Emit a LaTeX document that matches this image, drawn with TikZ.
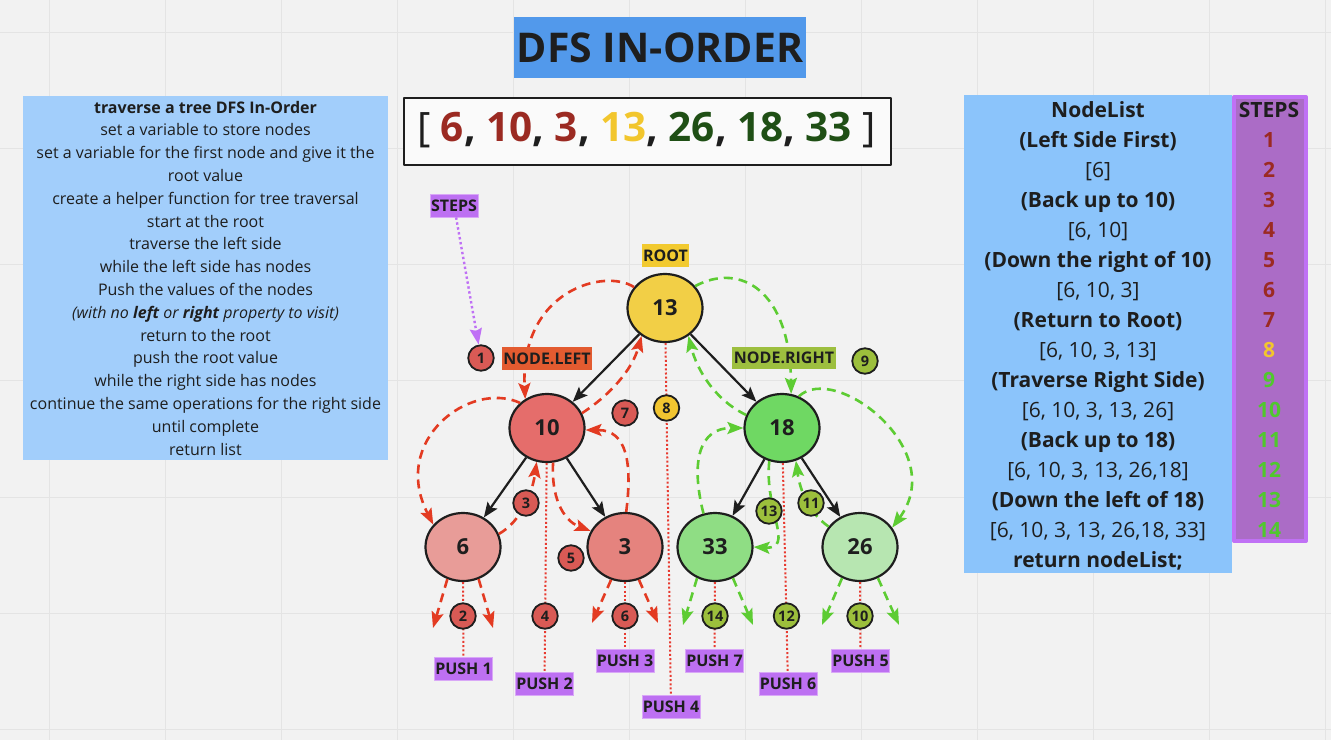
\documentclass[tikz,border=0pt]{standalone}
\usepackage{fontspec}
\setmainfont{Open Sans}
\usetikzlibrary{shapes.geometric,arrows.meta}
\definecolor{ink}{HTML}{1E1E1E}
\definecolor{bgc}{HTML}{F2F2F2}
\definecolor{gridc}{HTML}{E4E4E4}
\definecolor{titleblue}{HTML}{5299EB}
\definecolor{leftbox}{HTML}{A2CEFB}
\definecolor{rightbox}{HTML}{8BC4FB}
\definecolor{stepsfill}{HTML}{AB6CC6}
\definecolor{stepsborder}{HTML}{C071F5}
\definecolor{arrwhite}{HTML}{FAFAFA}
\definecolor{dred}{HTML}{9B2A22}
\definecolor{ayellow}{HTML}{F2C62D}
\definecolor{dgreen}{HTML}{1F4F15}
\definecolor{sgreen}{HTML}{50C82D}
\definecolor{c13}{HTML}{F2CF46}
\definecolor{c10}{HTML}{E56D6B}
\definecolor{c18}{HTML}{6FD863}
\definecolor{c6}{HTML}{E89C98}
\definecolor{c3}{HTML}{E5837E}
\definecolor{c33}{HTML}{8FDD84}
\definecolor{c26}{HTML}{B7E6B1}
\definecolor{redcirc}{HTML}{D95A55}
\definecolor{yelcirc}{HTML}{F2C530}
\definecolor{grncirc}{HTML}{9CBF3C}
\definecolor{tagroot}{HTML}{F2CA30}
\definecolor{tagleft}{HTML}{E35B30}
\definecolor{tagright}{HTML}{9DBF3F}
\definecolor{tagpurple}{HTML}{BD70F2}
\definecolor{tagpborder}{HTML}{D9A8F7}
\definecolor{dashred}{HTML}{E33B22}
\definecolor{dashgreen}{HTML}{5DCC33}
\definecolor{dotred}{HTML}{E83A30}
\definecolor{dotpurple}{HTML}{BF70F5}
\begin{document}
\begin{tikzpicture}[x=1pt,y=-1pt,line join=round,
  treenode/.style={ellipse,draw=ink,line width=2.2pt,minimum width=75pt,minimum height=68pt,inner sep=0pt,
    font=\bfseries\fontsize{22}{25}\selectfont,text=ink},
  stepc/.style={circle,draw=ink,line width=1.8pt,minimum size=25.5pt,inner sep=0pt,
    font=\bfseries\fontsize{14.5}{16}\selectfont,text=ink},
  tagbox/.style={rectangle,inner sep=0pt,minimum height=23pt,font=\bfseries\fontsize{16}{19}\selectfont,text=ink},
  pushtag/.style={tagbox,fill=tagpurple,draw=tagpborder,line width=0.8pt,minimum width=58pt},
  ltext/.style={anchor=base,inner sep=0pt,font=\fontsize{16}{19}\selectfont,text=ink},
  rtext/.style={anchor=base,inner sep=0pt,font=\fontsize{21}{24}\selectfont,text=ink},
  stepnum/.style={anchor=base,inner sep=0pt,font=\bfseries\fontsize{21}{24}\selectfont},
  treeedge/.style={draw=ink,line width=2.2pt,-{Stealth[length=15pt,width=12pt,inset=3pt]}},
  rdash/.style={draw=dashred,line width=2.6pt,dash pattern=on 9pt off 6pt,-{Stealth[length=16pt,width=12pt,inset=3pt]}},
  gdash/.style={draw=dashgreen,line width=2.6pt,dash pattern=on 9pt off 6pt,-{Stealth[length=16pt,width=12pt,inset=3pt]}},
  rdot/.style={draw=dotred,line width=2pt,dash pattern=on 2pt off 2.2pt},
  pdot/.style={draw=dotpurple,line width=2.4pt,dash pattern=on 2.4pt off 2.6pt,-{Stealth[length=16pt,width=12pt,inset=2pt]}}
]
\useasboundingbox (0,0) rectangle (1331,740);
\fill[bgc] (0,0) rectangle (1331,740);
\foreach \gx in {49,165,281,397,513,629,745,861,977,1093,1209,1325}
  \draw[gridc,line width=1pt] (\gx,0) -- (\gx,740);
\foreach \gy in {32,148,264,380,497,613,729}
  \draw[gridc,line width=1pt] (0,\gy) -- (1331,\gy);

% title and array
\node[fill=titleblue,minimum width=292pt,minimum height=61pt,inner sep=0pt,
  font=\bfseries\fontsize{41}{48}\selectfont,text=ink] (title) at (660,47.5) {DFS IN-ORDER};
\node[draw=ink,line width=2pt,fill=arrwhite,minimum width=487pt,minimum height=67pt,inner sep=0pt] (arr) at (647.5,131.5) {};
\node[anchor=base,inner sep=0pt,font=\fontsize{40.5}{46}\selectfont,text=ink] (arrtext) at (646.5,141.7)
  {[ \textbf{\textcolor{dred}{6}, \textcolor{dred}{10}, \textcolor{dred}{3}, \textcolor{ayellow}{13}, \textcolor{dgreen}{26}, \textcolor{dgreen}{18}, \textcolor{dgreen}{33}} ]};

% left box
\node[fill=leftbox,minimum width=365pt,minimum height=364pt,inner sep=0pt] (lbox) at (205.5,278) {};
\node[ltext] (l1) at (205.5,113) {\textbf{traverse a tree DFS In-Order}};
\node[ltext] (l2) at (205.5,135.8) {set a variable to store nodes};
\node[ltext] (l3) at (205.5,158.6) {set a variable for the first node and give it the};
\node[ltext] (l4) at (205.5,181.4) {root value};
\node[ltext] (l5) at (205.5,204.2) {create a helper function for tree traversal};
\node[ltext] (l6) at (205.5,227) {start at the root};
\node[ltext] (l7) at (205.5,249.8) {traverse the left side};
\node[ltext] (l8) at (205.5,272.6) {while the left side has nodes};
\node[ltext] (l9) at (205.5,295.4) {Push the values of the nodes};
\node[ltext] (l10) at (205.5,318.2) {\textit{(with no \textbf{left} or \textbf{right} property to visit)}};
\node[ltext] (l11) at (205.5,341) {return to the root};
\node[ltext] (l12) at (205.5,363.8) {push the root value};
\node[ltext] (l13) at (205.5,386.6) {while the right side has nodes};
\node[ltext] (l14) at (205.5,409.4) {continue the same operations for the right side};
\node[ltext] (l15) at (205.5,432.2) {until complete};
\node[ltext] (l16) at (205.5,455) {return list};

% right box
\node[fill=rightbox,minimum width=268pt,minimum height=478pt,inner sep=0pt] (rbox) at (1098,334) {};
\node[fill=stepsfill,draw=stepsborder,line width=4pt,minimum width=72pt,minimum height=444pt,inner sep=0pt] (sbox) at (1270,319) {};
\node[rtext] (r1) at (1098,117.5) {\textbf{NodeList}};
\node[rtext] (r2) at (1098,147.5) {\textbf{(Left Side First)}};
\node[rtext] (r3) at (1098,177.5) {[6]};
\node[rtext] (r4) at (1098,207.5) {\textbf{(Back up to 10)}};
\node[rtext] (r5) at (1098,237.5) {[6, 10]};
\node[rtext] (r6) at (1098,267.5) {\textbf{(Down the right of 10)}};
\node[rtext] (r7) at (1098,297.5) {[6, 10, 3]};
\node[rtext] (r8) at (1098,327.5) {\textbf{(Return to Root)}};
\node[rtext] (r9) at (1098,357.5) {[6, 10, 3, 13]};
\node[rtext] (r10) at (1098,387.5) {\textbf{(Traverse Right Side)}};
\node[rtext] (r11) at (1098,417.5) {[6, 10, 3, 13, 26]};
\node[rtext] (r12) at (1098,447.5) {\textbf{(Back up to 18)}};
\node[rtext] (r13) at (1098,477.5) {[6, 10, 3, 13, 26,18]};
\node[rtext] (r14) at (1098,507.5) {\textbf{(Down the left of 18)}};
\node[rtext] (r15) at (1098,537.5) {[6, 10, 3, 13, 26,18, 33]};
\node[rtext] (r16) at (1098,567.5) {\textbf{return nodeList;}};
\node[stepnum,text=ink] (shead) at (1269,117.5) {STEPS};
\foreach \s/\c [count=\i] in {1/dred,2/dred,3/dred,4/dred,5/dred,6/dred,7/dred,8/ayellow,9/sgreen,10/sgreen,11/sgreen,12/sgreen,13/sgreen,14/sgreen}
  \node[stepnum,text=\c] (s\s) at ({1269},{147.5+30*(\i-1)}) {\s};

% tree nodes
\node[treenode,fill=c13] (n13) at (665,308) {13};
\node[treenode,fill=c10] (n10) at (547,428) {10};
\node[treenode,fill=c18] (n18) at (782,428) {18};
\node[treenode,fill=c6] (n6) at (463,547) {6};
\node[treenode,fill=c3] (n3) at (625,547) {3};
\node[treenode,fill=c33] (n33) at (715,547) {33};
\node[treenode,fill=c26] (n26) at (860,547) {26};

% tags
\node[tagbox,fill=tagroot,minimum width=47pt] (root) at (665.5,255.5) {ROOT};
\node[tagbox,fill=tagpurple,draw=tagpborder,line width=0.8pt,minimum width=48pt] (stp) at (454,205.5) {STEPS};
\node[pushtag] (p1) at (463.5,668.5) {PUSH 1};
\node[pushtag] (p2) at (544.5,684) {PUSH 2};
\node[pushtag] (p3) at (625,660.5) {PUSH 3};
\node[pushtag] (p4) at (671,707) {PUSH 4};
\node[pushtag] (p5) at (860.5,660.5) {PUSH 5};
\node[pushtag] (p6) at (788,684) {PUSH 6};
\node[pushtag] (p7) at (714.5,660.5) {PUSH 7};
\node[stepc,fill=redcirc] (c1) at (481,358) {1};

% dotted push lines
\draw[rdot] (n13) -- (p4);
\draw[rdot] (n10) -- (p2);
\draw[rdot] (n6) -- (p1);
\draw[rdot] (n3) -- (p3);
\draw[rdot] (n18) -- (p6);
\draw[rdot] (n33) -- (p7);
\draw[rdot] (n26) -- (p5);
\draw[pdot] (stp) -- (c1);

% tree edges
\draw[treeedge] (n13) -- (n10);
\draw[treeedge] (n13) -- (n18);
\draw[treeedge] (n10) -- (n6);
\draw[treeedge] (n10) -- (n3);
\draw[treeedge] (n18) -- (n33);
\draw[treeedge] (n18) -- (n26);

% red traversal
\draw[rdash] (n13.146) .. controls (605,268) and (520,290) .. (n10.127);
\draw[rdash] (n10.137) .. controls (470,380) and (390,440) .. (n6.143);
\draw[rdash] (n6.20) .. controls (520,522) and (532,495) .. (n10.253);
\draw[rdash] (n10.280) .. controls (551,495) and (562,520) .. (n3.155);
\draw[rdash] (n3.88) .. controls (632,465) and (628,430) .. (n10.357);
\draw[rdash] (n10.23) .. controls (610,395) and (632,370) .. (n13.230);
\coordinate (a6l) at (433,628);
\coordinate (a6r) at (493,628);
\coordinate (a3l) at (592,623);
\coordinate (a3r) at (658,623);
\draw[rdash] (n6.244) -- (a6l);
\draw[rdash] (n6.296) -- (a6r);
\draw[rdash] (n3.247) -- (a3l);
\draw[rdash] (n3.293) -- (a3r);

% green traversal
\draw[gdash] (n13.36) .. controls (740,262) and (790,290) .. (n18.75);
\draw[gdash] (n18.62) .. controls (835,362) and (950,450) .. (n26.31);
\draw[gdash] (n18.160) .. controls (715,400) and (697,370) .. (n13.310);
\draw[gdash] (n33.109) .. controls (690,460) and (700,428) .. (n18.180);
\draw[gdash] (n18.249) .. controls (764,510) and (795,549) .. (n33.0);
\draw[gdash] (n26.147) .. controls (808,512) and (800,490) .. (n18.293);
\coordinate (a33l) at (683,625);
\coordinate (a33r) at (753,625);
\coordinate (a26l) at (822,625);
\coordinate (a26r) at (899,625);
\draw[gdash] (n33.240) -- (a33l);
\draw[gdash] (n33.300) -- (a33r);
\draw[gdash] (n26.240) -- (a26l);
\draw[gdash] (n26.300) -- (a26r);

% labels over connectors
\node[tagbox,fill=tagleft,minimum width=90pt] (nleft) at (547,358.5) {NODE.LEFT};
\node[tagbox,fill=tagright,minimum width=104pt,minimum height=22pt] (nright) at (784,358) {NODE.RIGHT};

% step circles
\node[stepc,fill=redcirc] (c7) at (625,413) {7};
\node[stepc,fill=yelcirc] (c8) at (666.5,408) {8};
\node[stepc,fill=redcirc] (c3) at (526,503) {3};
\node[stepc,fill=redcirc] (c5) at (571,558) {5};
\node[stepc,fill=redcirc] (c2) at (463,616) {2};
\node[stepc,fill=redcirc] (c4) at (545,616) {4};
\node[stepc,fill=redcirc] (c6) at (625,616) {6};
\node[stepc,fill=grncirc] (c9) at (865,361) {9};
\node[stepc,fill=grncirc] (c13) at (769,511) {13};
\node[stepc,fill=grncirc] (c11) at (811,503) {11};
\node[stepc,fill=grncirc] (c14) at (715,616) {14};
\node[stepc,fill=grncirc] (c12) at (786.5,616) {12};
\node[stepc,fill=grncirc] (c10) at (860,616) {10};
\end{tikzpicture}
\end{document}
